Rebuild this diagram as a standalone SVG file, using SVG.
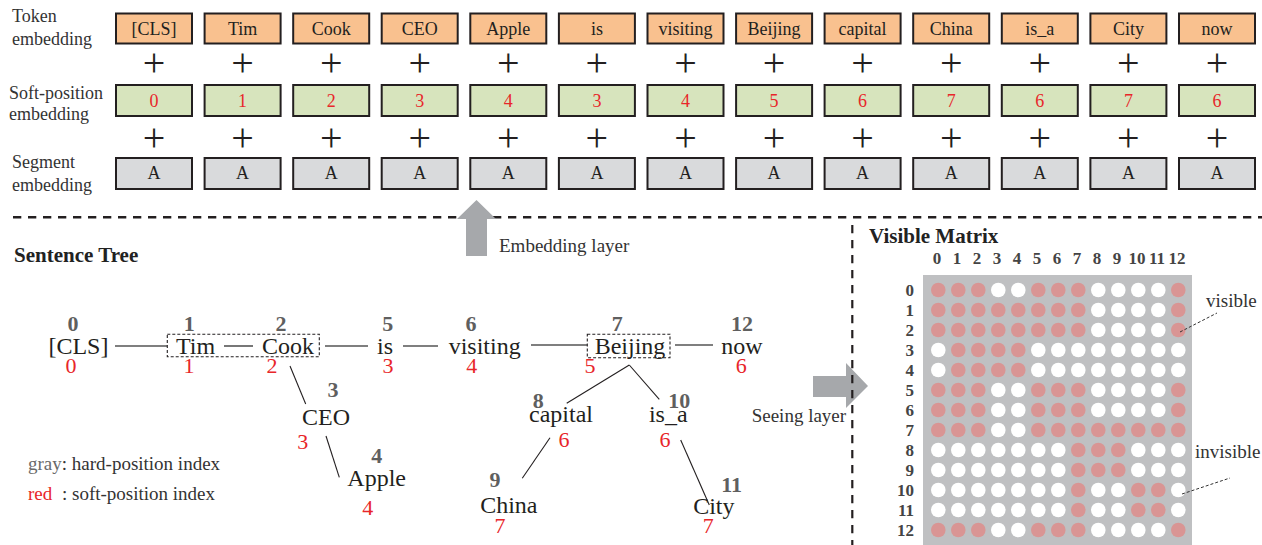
<svg xmlns="http://www.w3.org/2000/svg" width="1262" height="545" viewBox="0 0 1262 545">
<style>
text{font-family:"Liberation Serif","Times New Roman",serif}
.lbl{font-size:18px;fill:#333}
.lbl19{font-size:19px;fill:#333}
.title{font-size:21px;font-weight:bold;fill:#222}
.tok{fill:#F9C18F;stroke:#231F20;stroke-width:2}
.soft{fill:#D7E4BD;stroke:#231F20;stroke-width:2}
.seg{fill:#D9DADC;stroke:#231F20;stroke-width:2}
.bt{font-size:18px;fill:#231F20;text-anchor:middle}
.br{font-size:18px;fill:#E8262A;text-anchor:middle}
.plus{font-size:40px;fill:#231F20;text-anchor:middle}
.w{font-size:24px;fill:#231F20;text-anchor:middle}
.g{font-size:22px;font-weight:bold;fill:#5F5F5F;text-anchor:middle}
.r{font-size:22px;fill:#E8262A;text-anchor:middle}
.hl{stroke:#555;stroke-width:1.6;fill:none}
.dl{stroke:#231F20;stroke-width:1.1;fill:none}
.db{stroke:#231F20;stroke-width:1.1;fill:none;stroke-dasharray:3,2}
.sep{stroke:#231F20;stroke-width:2.5;fill:none;stroke-dasharray:8.3,6.7}
.arrow{fill:#A6A8AB}
.mh{font-size:17px;font-weight:bold;fill:#444;text-anchor:middle}
.mr{font-size:17px;font-weight:bold;fill:#444;text-anchor:end}
.p{fill:#D99594}
.o{fill:#FFFFFF}
.lead{stroke:#333;stroke-width:1;fill:none;stroke-dasharray:3,2}
</style>

<!-- Row labels -->
<g id="row-labels">
<text class="lbl" x="12" y="22">Token</text>
<text class="lbl" x="12" y="45">embedding</text>
<text class="lbl" x="9" y="99">Soft-position</text>
<text class="lbl" x="9" y="120">embedding</text>
<text class="lbl" x="12" y="168">Segment</text>
<text class="lbl" x="12" y="191">embedding</text>
</g>

<!-- Embedding columns -->
<g id="col-0"><rect class="tok" x="116" y="13.5" width="76" height="30"/><text class="bt" x="154" y="35">[CLS]</text><text class="plus" x="154" y="76">+</text><rect class="soft" x="116" y="85" width="76" height="31"/><text class="br" x="154" y="107">0</text><text class="plus" x="154" y="151">+</text><rect class="seg" x="116" y="158" width="76" height="31"/><text class="bt" x="154" y="179">A</text></g>
<g id="col-1"><rect class="tok" x="204.6" y="13.5" width="76" height="30"/><text class="bt" x="242.6" y="35">Tim</text><text class="plus" x="242.6" y="76">+</text><rect class="soft" x="204.6" y="85" width="76" height="31"/><text class="br" x="242.6" y="107">1</text><text class="plus" x="242.6" y="151">+</text><rect class="seg" x="204.6" y="158" width="76" height="31"/><text class="bt" x="242.6" y="179">A</text></g>
<g id="col-2"><rect class="tok" x="293.2" y="13.5" width="76" height="30"/><text class="bt" x="331.2" y="35">Cook</text><text class="plus" x="331.2" y="76">+</text><rect class="soft" x="293.2" y="85" width="76" height="31"/><text class="br" x="331.2" y="107">2</text><text class="plus" x="331.2" y="151">+</text><rect class="seg" x="293.2" y="158" width="76" height="31"/><text class="bt" x="331.2" y="179">A</text></g>
<g id="col-3"><rect class="tok" x="381.7" y="13.5" width="76" height="30"/><text class="bt" x="419.7" y="35">CEO</text><text class="plus" x="419.7" y="76">+</text><rect class="soft" x="381.7" y="85" width="76" height="31"/><text class="br" x="419.7" y="107">3</text><text class="plus" x="419.7" y="151">+</text><rect class="seg" x="381.7" y="158" width="76" height="31"/><text class="bt" x="419.7" y="179">A</text></g>
<g id="col-4"><rect class="tok" x="470.3" y="13.5" width="76" height="30"/><text class="bt" x="508.3" y="35">Apple</text><text class="plus" x="508.3" y="76">+</text><rect class="soft" x="470.3" y="85" width="76" height="31"/><text class="br" x="508.3" y="107">4</text><text class="plus" x="508.3" y="151">+</text><rect class="seg" x="470.3" y="158" width="76" height="31"/><text class="bt" x="508.3" y="179">A</text></g>
<g id="col-5"><rect class="tok" x="558.9" y="13.5" width="76" height="30"/><text class="bt" x="596.9" y="35">is</text><text class="plus" x="596.9" y="76">+</text><rect class="soft" x="558.9" y="85" width="76" height="31"/><text class="br" x="596.9" y="107">3</text><text class="plus" x="596.9" y="151">+</text><rect class="seg" x="558.9" y="158" width="76" height="31"/><text class="bt" x="596.9" y="179">A</text></g>
<g id="col-6"><rect class="tok" x="647.5" y="13.5" width="76" height="30"/><text class="bt" x="685.5" y="35">visiting</text><text class="plus" x="685.5" y="76">+</text><rect class="soft" x="647.5" y="85" width="76" height="31"/><text class="br" x="685.5" y="107">4</text><text class="plus" x="685.5" y="151">+</text><rect class="seg" x="647.5" y="158" width="76" height="31"/><text class="bt" x="685.5" y="179">A</text></g>
<g id="col-7"><rect class="tok" x="736.1" y="13.5" width="76" height="30"/><text class="bt" x="774.1" y="35">Beijing</text><text class="plus" x="774.1" y="76">+</text><rect class="soft" x="736.1" y="85" width="76" height="31"/><text class="br" x="774.1" y="107">5</text><text class="plus" x="774.1" y="151">+</text><rect class="seg" x="736.1" y="158" width="76" height="31"/><text class="bt" x="774.1" y="179">A</text></g>
<g id="col-8"><rect class="tok" x="824.6" y="13.5" width="76" height="30"/><text class="bt" x="862.6" y="35">capital</text><text class="plus" x="862.6" y="76">+</text><rect class="soft" x="824.6" y="85" width="76" height="31"/><text class="br" x="862.6" y="107">6</text><text class="plus" x="862.6" y="151">+</text><rect class="seg" x="824.6" y="158" width="76" height="31"/><text class="bt" x="862.6" y="179">A</text></g>
<g id="col-9"><rect class="tok" x="913.2" y="13.5" width="76" height="30"/><text class="bt" x="951.2" y="35">China</text><text class="plus" x="951.2" y="76">+</text><rect class="soft" x="913.2" y="85" width="76" height="31"/><text class="br" x="951.2" y="107">7</text><text class="plus" x="951.2" y="151">+</text><rect class="seg" x="913.2" y="158" width="76" height="31"/><text class="bt" x="951.2" y="179">A</text></g>
<g id="col-10"><rect class="tok" x="1001.8" y="13.5" width="76" height="30"/><text class="bt" x="1039.8" y="35">is_a</text><text class="plus" x="1039.8" y="76">+</text><rect class="soft" x="1001.8" y="85" width="76" height="31"/><text class="br" x="1039.8" y="107">6</text><text class="plus" x="1039.8" y="151">+</text><rect class="seg" x="1001.8" y="158" width="76" height="31"/><text class="bt" x="1039.8" y="179">A</text></g>
<g id="col-11"><rect class="tok" x="1090.4" y="13.5" width="76" height="30"/><text class="bt" x="1128.4" y="35">City</text><text class="plus" x="1128.4" y="76">+</text><rect class="soft" x="1090.4" y="85" width="76" height="31"/><text class="br" x="1128.4" y="107">7</text><text class="plus" x="1128.4" y="151">+</text><rect class="seg" x="1090.4" y="158" width="76" height="31"/><text class="bt" x="1128.4" y="179">A</text></g>
<g id="col-12"><rect class="tok" x="1179" y="13.5" width="76" height="30"/><text class="bt" x="1217" y="35">now</text><text class="plus" x="1217" y="76">+</text><rect class="soft" x="1179" y="85" width="76" height="31"/><text class="br" x="1217" y="107">6</text><text class="plus" x="1217" y="151">+</text><rect class="seg" x="1179" y="158" width="76" height="31"/><text class="bt" x="1217" y="179">A</text></g>

<!-- Separators and layer arrows -->
<g id="separator-h">
<line class="sep" x1="13" y1="217.3" x2="1262" y2="217.3"/>
</g>
<g id="embedding-layer">
<polygon class="arrow" points="466,256 466,219 457,219 476.5,200 496,219 487,219 487,256"/>
<text class="lbl19" x="499" y="252">Embedding layer</text>
</g>
<g id="seeing-layer">
<polygon class="arrow" points="813,376 846,376 846,363 868,386 846,408 846,397 813,397"/>
<text class="lbl19" x="751.7" y="421.7">Seeing layer</text>
</g>
<g id="separator-v">
<line class="sep" x1="852.3" y1="225" x2="852.3" y2="545" style="stroke-width:2.2"/>
</g>

<!-- Sentence tree -->
<text class="title" x="14" y="262">Sentence Tree</text>

<g id="tree-connectors">
<line class="hl" x1="115" y1="346" x2="167" y2="346"/>
<line class="hl" x1="224" y1="346" x2="253" y2="346"/>
<line class="hl" x1="325" y1="346" x2="368" y2="346"/>
<line class="hl" x1="403" y1="346" x2="438" y2="346"/>
<line class="hl" x1="531" y1="345" x2="587" y2="345"/>
<line class="hl" x1="675" y1="345" x2="713" y2="345"/>
<rect class="db" x="167.3" y="334.3" width="152" height="22.4"/>
<rect class="db" x="587.3" y="334.3" width="82.7" height="23.4"/>
<line class="dl" x1="290" y1="366" x2="305.7" y2="404"/>
<line class="dl" x1="326" y1="436" x2="339.3" y2="477.3"/>
<line class="dl" x1="629.3" y1="365" x2="566.7" y2="403.3"/>
<line class="dl" x1="629.3" y1="365" x2="659.3" y2="399.3"/>
<line class="dl" x1="550" y1="437.7" x2="522.3" y2="478.3"/>
<line class="dl" x1="680.7" y1="440" x2="709.3" y2="505"/>
</g>

<g id="n-cls"><text class="g" x="73" y="331">0</text><text class="w" x="78.4" y="354">[CLS]</text><text class="r" x="71" y="373">0</text></g>
<g id="n-tim"><text class="g" x="189.3" y="331">1</text><text class="w" x="195.5" y="354">Tim</text><text class="r" x="189" y="373">1</text></g>
<g id="n-cook"><text class="g" x="281" y="331">2</text><text class="w" x="288" y="354">Cook</text><text class="r" x="272" y="373">2</text></g>
<g id="n-is"><text class="g" x="387.7" y="331">5</text><text class="w" x="385" y="354">is</text><text class="r" x="388" y="373">3</text></g>
<g id="n-visiting"><text class="g" x="471" y="331">6</text><text class="w" x="484.7" y="354">visiting</text><text class="r" x="471.7" y="373">4</text></g>
<g id="n-beijing"><text class="g" x="617.3" y="331">7</text><text class="w" x="630" y="354">Beijing</text><text class="r" x="590" y="373">5</text></g>
<g id="n-now"><text class="g" x="742" y="331">12</text><text class="w" x="742" y="354">now</text><text class="r" x="741.3" y="373">6</text></g>
<g id="n-ceo"><text class="g" x="333" y="397">3</text><text class="w" x="326" y="425">CEO</text><text class="r" x="302.7" y="449">3</text></g>
<g id="n-apple"><text class="g" x="376.7" y="463">4</text><text class="w" x="376.7" y="486">Apple</text><text class="r" x="367.7" y="515">4</text></g>
<g id="n-capital"><text class="g" x="538.3" y="408.3">8</text><text class="w" x="561" y="422">capital</text><text class="r" x="564" y="447">6</text></g>
<g id="n-isa"><text class="g" x="679.3" y="407.5">10</text><text class="w" x="668.3" y="422">is_a</text><text class="r" x="665" y="447">6</text></g>
<g id="n-china"><text class="g" x="495" y="487">9</text><text class="w" x="508.8" y="513">China</text><text class="r" x="500" y="533">7</text></g>
<g id="n-city"><text class="g" x="731.7" y="492">11</text><text class="w" x="713.8" y="513.5">City</text><text class="r" x="708.3" y="533">7</text></g>

<g id="legend">
<text class="lbl19" x="28" y="470"><tspan fill="#6A6A6A">gray</tspan>: hard-position index</text>
<text class="lbl19" x="28" y="500"><tspan fill="#E8262A">red</tspan></text>
<text class="lbl19" x="62" y="500">: soft-position index</text>
</g>

<!-- Visible matrix -->
<g id="visible-matrix">
<text class="title" x="869" y="243">Visible Matrix</text>
<rect x="923" y="275" width="269" height="270" fill="#BFC0C2"/>
<g id="matrix-col-headers">
<text class="mh" x="937" y="264">0</text><text class="mh" x="957" y="264">1</text><text class="mh" x="977" y="264">2</text><text class="mh" x="997" y="264">3</text><text class="mh" x="1017" y="264">4</text><text class="mh" x="1037" y="264">5</text><text class="mh" x="1057" y="264">6</text><text class="mh" x="1077" y="264">7</text><text class="mh" x="1097" y="264">8</text><text class="mh" x="1117" y="264">9</text><text class="mh" x="1137" y="264">10</text><text class="mh" x="1157" y="264">11</text><text class="mh" x="1177" y="264">12</text>
</g>
<g id="matrix-row-headers">
<text class="mr" x="914" y="296">0</text><text class="mr" x="914" y="316">1</text><text class="mr" x="914" y="336">2</text><text class="mr" x="914" y="356">3</text><text class="mr" x="914" y="376">4</text><text class="mr" x="914" y="396">5</text><text class="mr" x="914" y="416">6</text><text class="mr" x="914" y="436">7</text><text class="mr" x="914" y="456">8</text><text class="mr" x="914" y="476">9</text><text class="mr" x="914" y="496">10</text><text class="mr" x="914" y="516">11</text><text class="mr" x="914" y="536">12</text>
</g>
<g id="matrix-cells">
<circle class="p" cx="938.3" cy="290" r="7.3"/><circle class="p" cx="958.3" cy="290" r="7.3"/><circle class="p" cx="978.3" cy="290" r="7.3"/><circle class="o" cx="998.3" cy="290" r="7.3"/><circle class="o" cx="1018.3" cy="290" r="7.3"/><circle class="p" cx="1038.3" cy="290" r="7.3"/><circle class="p" cx="1058.3" cy="290" r="7.3"/><circle class="p" cx="1078.3" cy="290" r="7.3"/><circle class="o" cx="1098.3" cy="290" r="7.3"/><circle class="o" cx="1118.3" cy="290" r="7.3"/><circle class="o" cx="1138.3" cy="290" r="7.3"/><circle class="o" cx="1158.3" cy="290" r="7.3"/><circle class="p" cx="1178.3" cy="290" r="7.3"/>
<circle class="p" cx="938.3" cy="310" r="7.3"/><circle class="p" cx="958.3" cy="310" r="7.3"/><circle class="p" cx="978.3" cy="310" r="7.3"/><circle class="p" cx="998.3" cy="310" r="7.3"/><circle class="p" cx="1018.3" cy="310" r="7.3"/><circle class="p" cx="1038.3" cy="310" r="7.3"/><circle class="p" cx="1058.3" cy="310" r="7.3"/><circle class="p" cx="1078.3" cy="310" r="7.3"/><circle class="o" cx="1098.3" cy="310" r="7.3"/><circle class="o" cx="1118.3" cy="310" r="7.3"/><circle class="o" cx="1138.3" cy="310" r="7.3"/><circle class="o" cx="1158.3" cy="310" r="7.3"/><circle class="p" cx="1178.3" cy="310" r="7.3"/>
<circle class="p" cx="938.3" cy="330" r="7.3"/><circle class="p" cx="958.3" cy="330" r="7.3"/><circle class="p" cx="978.3" cy="330" r="7.3"/><circle class="p" cx="998.3" cy="330" r="7.3"/><circle class="p" cx="1018.3" cy="330" r="7.3"/><circle class="p" cx="1038.3" cy="330" r="7.3"/><circle class="p" cx="1058.3" cy="330" r="7.3"/><circle class="p" cx="1078.3" cy="330" r="7.3"/><circle class="o" cx="1098.3" cy="330" r="7.3"/><circle class="o" cx="1118.3" cy="330" r="7.3"/><circle class="o" cx="1138.3" cy="330" r="7.3"/><circle class="o" cx="1158.3" cy="330" r="7.3"/><circle class="p" cx="1178.3" cy="330" r="7.3"/>
<circle class="o" cx="938.3" cy="350" r="7.3"/><circle class="p" cx="958.3" cy="350" r="7.3"/><circle class="p" cx="978.3" cy="350" r="7.3"/><circle class="p" cx="998.3" cy="350" r="7.3"/><circle class="p" cx="1018.3" cy="350" r="7.3"/><circle class="o" cx="1038.3" cy="350" r="7.3"/><circle class="o" cx="1058.3" cy="350" r="7.3"/><circle class="o" cx="1078.3" cy="350" r="7.3"/><circle class="o" cx="1098.3" cy="350" r="7.3"/><circle class="o" cx="1118.3" cy="350" r="7.3"/><circle class="o" cx="1138.3" cy="350" r="7.3"/><circle class="o" cx="1158.3" cy="350" r="7.3"/><circle class="o" cx="1178.3" cy="350" r="7.3"/>
<circle class="o" cx="938.3" cy="370" r="7.3"/><circle class="p" cx="958.3" cy="370" r="7.3"/><circle class="p" cx="978.3" cy="370" r="7.3"/><circle class="p" cx="998.3" cy="370" r="7.3"/><circle class="p" cx="1018.3" cy="370" r="7.3"/><circle class="o" cx="1038.3" cy="370" r="7.3"/><circle class="o" cx="1058.3" cy="370" r="7.3"/><circle class="o" cx="1078.3" cy="370" r="7.3"/><circle class="o" cx="1098.3" cy="370" r="7.3"/><circle class="o" cx="1118.3" cy="370" r="7.3"/><circle class="o" cx="1138.3" cy="370" r="7.3"/><circle class="o" cx="1158.3" cy="370" r="7.3"/><circle class="o" cx="1178.3" cy="370" r="7.3"/>
<circle class="p" cx="938.3" cy="390" r="7.3"/><circle class="p" cx="958.3" cy="390" r="7.3"/><circle class="p" cx="978.3" cy="390" r="7.3"/><circle class="o" cx="998.3" cy="390" r="7.3"/><circle class="o" cx="1018.3" cy="390" r="7.3"/><circle class="p" cx="1038.3" cy="390" r="7.3"/><circle class="p" cx="1058.3" cy="390" r="7.3"/><circle class="p" cx="1078.3" cy="390" r="7.3"/><circle class="o" cx="1098.3" cy="390" r="7.3"/><circle class="o" cx="1118.3" cy="390" r="7.3"/><circle class="o" cx="1138.3" cy="390" r="7.3"/><circle class="o" cx="1158.3" cy="390" r="7.3"/><circle class="p" cx="1178.3" cy="390" r="7.3"/>
<circle class="p" cx="938.3" cy="410" r="7.3"/><circle class="p" cx="958.3" cy="410" r="7.3"/><circle class="p" cx="978.3" cy="410" r="7.3"/><circle class="o" cx="998.3" cy="410" r="7.3"/><circle class="o" cx="1018.3" cy="410" r="7.3"/><circle class="p" cx="1038.3" cy="410" r="7.3"/><circle class="p" cx="1058.3" cy="410" r="7.3"/><circle class="p" cx="1078.3" cy="410" r="7.3"/><circle class="o" cx="1098.3" cy="410" r="7.3"/><circle class="o" cx="1118.3" cy="410" r="7.3"/><circle class="o" cx="1138.3" cy="410" r="7.3"/><circle class="o" cx="1158.3" cy="410" r="7.3"/><circle class="p" cx="1178.3" cy="410" r="7.3"/>
<circle class="p" cx="938.3" cy="430" r="7.3"/><circle class="p" cx="958.3" cy="430" r="7.3"/><circle class="p" cx="978.3" cy="430" r="7.3"/><circle class="o" cx="998.3" cy="430" r="7.3"/><circle class="o" cx="1018.3" cy="430" r="7.3"/><circle class="p" cx="1038.3" cy="430" r="7.3"/><circle class="p" cx="1058.3" cy="430" r="7.3"/><circle class="p" cx="1078.3" cy="430" r="7.3"/><circle class="p" cx="1098.3" cy="430" r="7.3"/><circle class="p" cx="1118.3" cy="430" r="7.3"/><circle class="p" cx="1138.3" cy="430" r="7.3"/><circle class="p" cx="1158.3" cy="430" r="7.3"/><circle class="p" cx="1178.3" cy="430" r="7.3"/>
<circle class="o" cx="938.3" cy="450" r="7.3"/><circle class="o" cx="958.3" cy="450" r="7.3"/><circle class="o" cx="978.3" cy="450" r="7.3"/><circle class="o" cx="998.3" cy="450" r="7.3"/><circle class="o" cx="1018.3" cy="450" r="7.3"/><circle class="o" cx="1038.3" cy="450" r="7.3"/><circle class="o" cx="1058.3" cy="450" r="7.3"/><circle class="p" cx="1078.3" cy="450" r="7.3"/><circle class="p" cx="1098.3" cy="450" r="7.3"/><circle class="p" cx="1118.3" cy="450" r="7.3"/><circle class="o" cx="1138.3" cy="450" r="7.3"/><circle class="o" cx="1158.3" cy="450" r="7.3"/><circle class="o" cx="1178.3" cy="450" r="7.3"/>
<circle class="o" cx="938.3" cy="470" r="7.3"/><circle class="o" cx="958.3" cy="470" r="7.3"/><circle class="o" cx="978.3" cy="470" r="7.3"/><circle class="o" cx="998.3" cy="470" r="7.3"/><circle class="o" cx="1018.3" cy="470" r="7.3"/><circle class="o" cx="1038.3" cy="470" r="7.3"/><circle class="o" cx="1058.3" cy="470" r="7.3"/><circle class="p" cx="1078.3" cy="470" r="7.3"/><circle class="p" cx="1098.3" cy="470" r="7.3"/><circle class="p" cx="1118.3" cy="470" r="7.3"/><circle class="o" cx="1138.3" cy="470" r="7.3"/><circle class="o" cx="1158.3" cy="470" r="7.3"/><circle class="o" cx="1178.3" cy="470" r="7.3"/>
<circle class="o" cx="938.3" cy="490" r="7.3"/><circle class="o" cx="958.3" cy="490" r="7.3"/><circle class="o" cx="978.3" cy="490" r="7.3"/><circle class="o" cx="998.3" cy="490" r="7.3"/><circle class="o" cx="1018.3" cy="490" r="7.3"/><circle class="o" cx="1038.3" cy="490" r="7.3"/><circle class="o" cx="1058.3" cy="490" r="7.3"/><circle class="p" cx="1078.3" cy="490" r="7.3"/><circle class="o" cx="1098.3" cy="490" r="7.3"/><circle class="o" cx="1118.3" cy="490" r="7.3"/><circle class="p" cx="1138.3" cy="490" r="7.3"/><circle class="p" cx="1158.3" cy="490" r="7.3"/><circle class="o" cx="1178.3" cy="490" r="7.3"/>
<circle class="o" cx="938.3" cy="510" r="7.3"/><circle class="o" cx="958.3" cy="510" r="7.3"/><circle class="o" cx="978.3" cy="510" r="7.3"/><circle class="o" cx="998.3" cy="510" r="7.3"/><circle class="o" cx="1018.3" cy="510" r="7.3"/><circle class="o" cx="1038.3" cy="510" r="7.3"/><circle class="o" cx="1058.3" cy="510" r="7.3"/><circle class="p" cx="1078.3" cy="510" r="7.3"/><circle class="o" cx="1098.3" cy="510" r="7.3"/><circle class="o" cx="1118.3" cy="510" r="7.3"/><circle class="p" cx="1138.3" cy="510" r="7.3"/><circle class="p" cx="1158.3" cy="510" r="7.3"/><circle class="o" cx="1178.3" cy="510" r="7.3"/>
<circle class="p" cx="938.3" cy="530" r="7.3"/><circle class="p" cx="958.3" cy="530" r="7.3"/><circle class="p" cx="978.3" cy="530" r="7.3"/><circle class="o" cx="998.3" cy="530" r="7.3"/><circle class="o" cx="1018.3" cy="530" r="7.3"/><circle class="p" cx="1038.3" cy="530" r="7.3"/><circle class="p" cx="1058.3" cy="530" r="7.3"/><circle class="p" cx="1078.3" cy="530" r="7.3"/><circle class="o" cx="1098.3" cy="530" r="7.3"/><circle class="o" cx="1118.3" cy="530" r="7.3"/><circle class="o" cx="1138.3" cy="530" r="7.3"/><circle class="o" cx="1158.3" cy="530" r="7.3"/><circle class="p" cx="1178.3" cy="530" r="7.3"/>
</g>
<g id="matrix-annotations">
<text class="lbl19" x="1206" y="307">visible</text>
<line class="lead" x1="1180" y1="332" x2="1217" y2="313"/>
<text class="lbl19" x="1195" y="458">invisible</text>
<line class="lead" x1="1182" y1="494" x2="1230" y2="478"/>
</g>
</g>
</svg>
